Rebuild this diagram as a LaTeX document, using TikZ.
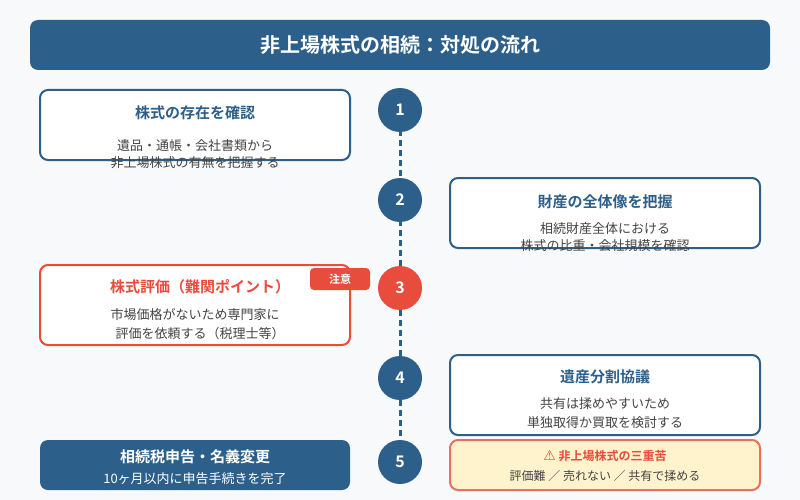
\documentclass[tikz,border=0pt]{standalone}
\usepackage{fontspec}
\setmainfont{Noto Sans CJK JP}
\newfontfamily\bd{Noto Sans CJK JP Bold}
\usetikzlibrary{backgrounds}
\definecolor{navy}{HTML}{2C5F8A}
\definecolor{alert}{HTML}{E74C3C}
\definecolor{page}{HTML}{F8F9FA}
\definecolor{ink}{HTML}{444444}
\definecolor{warnfill}{HTML}{FFF3CD}
\definecolor{warnline}{HTML}{E8705F}
\newcommand{\fs}[1]{\fontsize{#1}{#1}\selectfont}
\newcommand{\dg}[1]{\raisebox{-0.8pt}{#1}}
\tikzset{
  x=1pt,y=-1pt,
  card/.style={draw=navy,line width=2pt,fill=white,rounded corners=8pt,minimum width=310pt,inner sep=0pt,outer sep=0pt,anchor=north west},
  stepdot/.style={circle,fill=navy,text=white,minimum size=44pt,inner sep=0pt,outer sep=0pt,font=\bd\fs{16}},
  head/.style={anchor=base,font=\bd\fs{15},text=navy,inner sep=0pt},
  body/.style={anchor=base,font=\fs{13},text=ink,inner sep=0pt},
}
\begin{document}
\begin{tikzpicture}
\useasboundingbox (0,0) rectangle (800,500);
% title
\node[fill=navy,rounded corners=8pt,minimum width=740pt,minimum height=50pt,inner sep=0pt,outer sep=0pt,text=white,font=\bd\fs{20}] (title) at (400,45) {非上場株式の相続：対処の流れ};
% step circles
\node[stepdot] (c1) at (400,110) {\dg{1}};
\node[stepdot] (c2) at (400,200) {\dg{2}};
\node[stepdot,fill=alert] (c3) at (400,288) {\dg{3}};
\node[stepdot] (c4) at (400,378) {\dg{4}};
\node[stepdot] (c5) at (400,462) {\dg{5}};
\begin{scope}[on background layer]
\fill[page] (0,0) rectangle (800,500);
\draw[navy,line width=3pt,dash pattern=on 6pt off 4pt] (c1.center) -- (c5.center);
\end{scope}
% card 1
\node[card,minimum height=70pt] (b1) at (40,90) {};
\node[head] (b1t) at (195,118) {株式の存在を確認};
\node[body] (b1a) at (195,150) {遺品・通帳・会社書類から};
\node[body] (b1b) at (195,167) {非上場株式の有無を把握する};
% card 2
\node[card,minimum height=70pt] (b2) at (450,178) {};
\node[head] (b2t) at (605,207) {財産の全体像を把握};
\node[body] (b2a) at (605,233) {相続財産全体における};
\node[body] (b2b) at (605,250) {株式の比重・会社規模を確認};
% card 3
\node[card,draw=alert,minimum height=80pt] (b3) at (40,265) {};
\node[head,text=alert] (b3t) at (200,292) {株式評価（難関ポイント）};
\node[body] (b3a) at (195,319) {市場価格がないため専門家に};
\node[body] (b3b) at (200,338) {評価を依頼する（税理士等）};
\node[fill=alert,rounded corners=4pt,minimum width=60pt,minimum height=22pt,inner sep=0pt,outer sep=0pt,text=white,font=\bd\fs{11}] (tag) at (340,279) {注意};
% card 4
\node[card,minimum height=80pt] (b4) at (450,355) {};
\node[head] (b4t) at (605,382) {遺産分割協議};
\node[body] (b4a) at (605,408) {共有は揉めやすいため};
\node[body] (b4b) at (605,427) {単独取得か買取を検討する};
% card 5
\node[fill=navy,rounded corners=8pt,minimum width=310pt,minimum height=50pt,inner sep=0pt,outer sep=0pt] (b5) at (195,465) {};
\node[head,text=white] (b5t) at (195,462) {相続税申告・名義変更};
\node[body,text=white] (b5a) at (195,483) {10ヶ月以内に申告手続きを完了};
% warning
\node[card,draw=warnline,fill=warnfill,minimum height=50pt] (w) at (450,440) {};
\node[anchor=base,inner sep=0pt,font=\bd\fs{12},text=alert] (wt) at (605,460) {\textcolor{alert}{\fontspec{DejaVu Sans}\fs{14}⚠} 非上場株式の三重苦};
\node[anchor=base,inner sep=0pt,font=\fs{12},text=ink] (wb) at (605,480) {評価難 ／ 売れない ／ 共有で揉める};
\end{tikzpicture}
\end{document}
